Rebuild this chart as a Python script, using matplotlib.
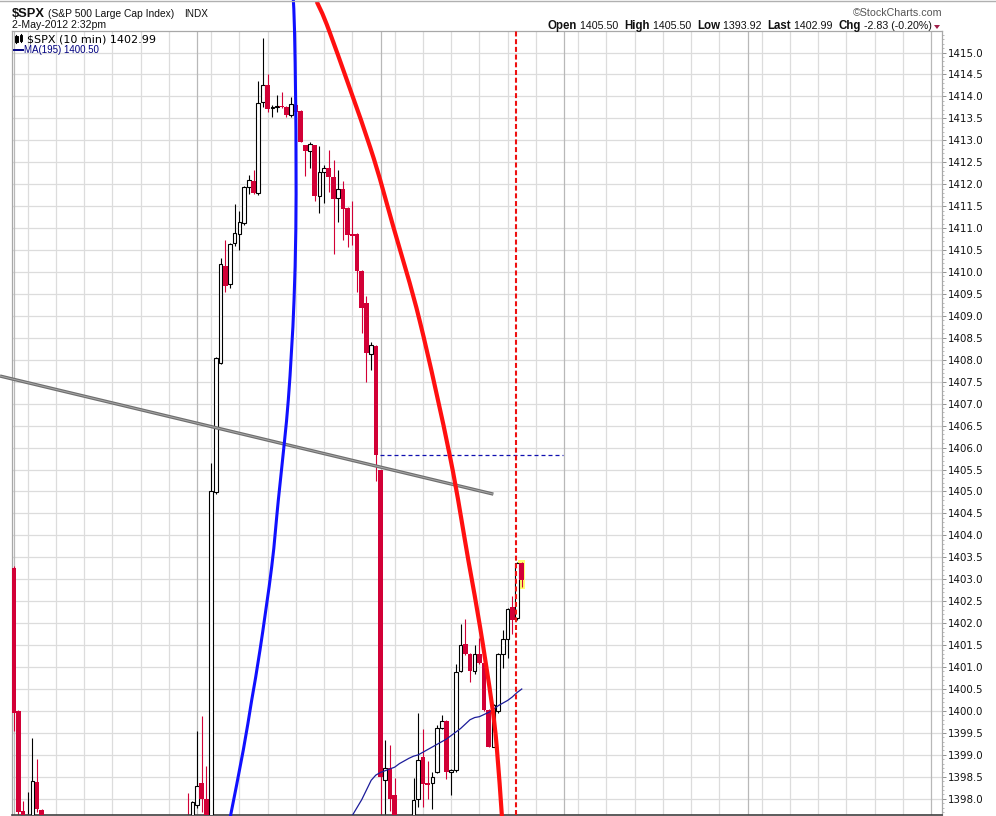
import numpy as np
import matplotlib
matplotlib.use('Agg')
import matplotlib.pyplot as plt
from matplotlib.patches import Rectangle, PathPatch
from matplotlib.path import Path
from matplotlib.lines import Line2D
from matplotlib.ticker import MultipleLocator, FormatStrFormatter

W, H = 996, 816

# ---------------- data ----------------
sessions = ['04-30', '05-01', '05-02']
bars_per_session = 39

bar_times = [
    '04-30 09:30', '04-30 09:40', '04-30 09:50', '04-30 10:00', '04-30 10:10', '04-30 10:20', '04-30 10:30',
    '04-30 15:40', '04-30 15:50',
    '05-01 09:30', '05-01 09:40', '05-01 09:50', '05-01 10:00', '05-01 10:10', '05-01 10:20', '05-01 10:30',
    '05-01 10:40', '05-01 10:50', '05-01 11:00', '05-01 11:10', '05-01 11:20', '05-01 11:30', '05-01 11:40',
    '05-01 11:50', '05-01 12:00', '05-01 12:10', '05-01 12:20', '05-01 12:30', '05-01 12:40', '05-01 12:50',
    '05-01 13:00', '05-01 13:10', '05-01 13:20', '05-01 13:30', '05-01 13:40', '05-01 13:50', '05-01 14:00',
    '05-01 14:10', '05-01 14:20', '05-01 14:30', '05-01 14:40', '05-01 14:50', '05-01 15:00', '05-01 15:10',
    '05-01 15:20', '05-01 15:30', '05-01 15:40', '05-01 15:50',
    '05-02 09:30', '05-02 09:40', '05-02 09:50', '05-02 10:00', '05-02 10:10', '05-02 10:20', '05-02 10:30',
    '05-02 10:40', '05-02 10:50', '05-02 11:00', '05-02 11:10', '05-02 11:20', '05-02 11:30', '05-02 11:40',
    '05-02 11:50', '05-02 12:00', '05-02 12:10', '05-02 12:20', '05-02 12:30', '05-02 12:40', '05-02 12:50',
    '05-02 13:00', '05-02 13:10', '05-02 13:20', '05-02 13:30', '05-02 13:40', '05-02 13:50', '05-02 14:00',
    '05-02 14:10', '05-02 14:20', '05-02 14:30',
]

opens = [
    1403.26, 1400.00, 1397.72, 1396.80, 1397.30, 1398.38, 1397.74,
    1397.50, 1397.30,
    1397.86, 1398.35, 1398.00, 1397.45, 1404.98, 1407.92, 1410.14,
    1409.72, 1410.65, 1410.87, 1411.11, 1411.93, 1412.07, 1411.79,
    1413.87, 1414.26, 1413.74, 1413.76, 1413.78, 1413.76, 1413.57,
    1413.80, 1413.66, 1412.89, 1412.75, 1412.89, 1411.74, 1412.28,
    1412.36, 1412.16, 1411.68, 1411.88, 1411.46, 1410.86, 1410.86,
    1410.02, 1409.30, 1408.13, 1408.31,
    1405.50, 1398.43, 1398.69, 1398.09, 1396.20, 1395.00, 1394.40,
    1396.00, 1398.00, 1398.94, 1398.37, 1398.35, 1398.62, 1399.61,
    1399.76, 1398.62, 1398.66, 1400.90, 1401.53, 1401.30, 1400.90,
    1401.29, 1401.10, 1400.02, 1399.19, 1400.00, 1401.29, 1401.63,
    1402.36, 1402.11, 1403.38,
]
highs = [
    1403.30, 1400.02, 1397.95, 1398.15, 1399.38, 1398.90, 1397.76,
    1398.13, 1397.95,
    1399.54, 1399.89, 1398.75, 1405.64, 1408.07, 1410.31, 1410.73,
    1410.65, 1411.55, 1411.39, 1411.95, 1412.21, 1412.33, 1414.36,
    1415.32, 1414.51, 1413.80, 1414.03, 1414.10, 1413.78, 1413.99,
    1413.85, 1413.68, 1412.90, 1412.95, 1412.90, 1412.87, 1412.44,
    1412.78, 1412.55, 1412.32, 1412.08, 1411.48, 1411.62, 1410.88,
    1410.04, 1409.45, 1408.41, 1408.33,
    1405.50, 1399.34, 1399.23, 1398.47, 1396.80, 1395.60, 1396.30,
    1398.47, 1399.95, 1399.58, 1398.85, 1398.62, 1399.68, 1399.91,
    1399.80, 1398.68, 1401.07, 1401.98, 1402.09, 1401.33, 1401.50,
    1401.66, 1401.12, 1400.04, 1400.16, 1401.31, 1401.85, 1402.34,
    1402.62, 1403.40, 1403.40,
]
lows = [
    1399.55, 1397.60, 1396.90, 1396.60, 1397.10, 1397.70, 1396.80,
    1397.00, 1397.10,
    1397.80, 1397.70, 1397.20, 1397.30, 1404.95, 1407.90, 1409.55,
    1409.64, 1410.60, 1410.49, 1411.07, 1411.78, 1411.77, 1411.75,
    1413.77, 1413.64, 1413.52, 1413.64, 1413.74, 1413.54, 1413.52,
    1413.60, 1412.95, 1412.19, 1412.38, 1411.62, 1411.34, 1411.58,
    1411.83, 1410.40, 1411.13, 1410.73, 1410.58, 1410.61, 1409.54,
    1408.62, 1407.49, 1407.77, 1405.25,
    1396.50, 1396.00, 1397.71, 1395.50, 1394.50, 1393.92, 1394.20,
    1395.80, 1397.82, 1397.82, 1398.00, 1397.76, 1398.58, 1399.60,
    1398.45, 1398.09, 1398.62, 1400.88, 1401.28, 1400.67, 1400.84,
    1401.08, 1400.00, 1399.17, 1399.17, 1399.95, 1400.99, 1401.20,
    1401.75, 1402.08, 1402.82,
]
closes = [
    1399.96, 1397.70, 1397.10, 1397.40, 1398.40, 1397.76, 1397.00,
    1397.20, 1397.92,
    1398.29, 1398.00, 1397.40, 1405.02, 1408.03, 1410.18, 1409.67,
    1410.63, 1410.88, 1411.15, 1411.93, 1412.09, 1411.79, 1413.84,
    1414.25, 1413.72, 1413.76, 1413.78, 1413.75, 1413.57, 1413.83,
    1413.64, 1412.97, 1412.76, 1412.91, 1411.74, 1412.27, 1412.36,
    1412.16, 1411.66, 1411.88, 1411.44, 1410.84, 1410.83, 1410.03,
    1409.17, 1408.16, 1408.34, 1405.82,
    1398.49, 1398.69, 1398.00, 1396.20, 1395.00, 1394.40, 1396.00,
    1397.97, 1398.88, 1398.34, 1398.31, 1398.50, 1399.61, 1399.76,
    1398.62, 1398.66, 1400.88, 1401.50, 1401.30, 1400.90, 1401.29,
    1401.10, 1400.02, 1399.19, 1400.14, 1401.29, 1401.63, 1402.32,
    1402.07, 1403.38, 1402.99,
]

ma_times = ['05-01 15:00', '05-01 15:10', '05-01 15:20', '05-01 15:30', '05-01 15:40', '05-01 15:50',
            '05-02 09:30', '05-02 09:40', '05-02 09:50', '05-02 10:00', '05-02 10:10', '05-02 10:20',
            '05-02 10:30', '05-02 10:40', '05-02 10:50', '05-02 11:00', '05-02 11:10', '05-02 11:20',
            '05-02 11:30', '05-02 11:40', '05-02 11:50', '05-02 12:00', '05-02 12:10', '05-02 12:20',
            '05-02 12:30', '05-02 12:40', '05-02 12:50', '05-02 13:00', '05-02 13:10', '05-02 13:20',
            '05-02 13:30', '05-02 13:40', '05-02 13:50', '05-02 14:00', '05-02 14:10', '05-02 14:20',
            '05-02 14:30']
ma_values = [1397.62, 1397.80, 1397.98, 1398.20, 1398.42, 1398.54,
             1398.60, 1398.64, 1398.68, 1398.72, 1398.80, 1398.86,
             1398.92, 1398.97, 1399.00, 1399.06, 1399.12, 1399.18,
             1399.24, 1399.30, 1399.36, 1399.44, 1399.52, 1399.60,
             1399.70, 1399.80, 1399.85, 1399.87, 1399.92, 1399.97,
             1400.04, 1400.12, 1400.18, 1400.24, 1400.32, 1400.42,
             1400.50]

# hand-drawn annotations as (bar position, price)
blue_arc_x = [59.46, 59.71, 59.95, 60.03, 59.99, 59.61, 59.08, 58.39, 57.54, 56.27, 54.87, 52.38, 50.62,
              48.83, 46.22, 46.11]
blue_arc_y = [1416.20, 1415.52, 1413.92, 1412.55, 1410.96, 1409.36, 1408.22, 1407.08, 1406.10, 1404.80,
              1403.29, 1401.39, 1400.25, 1399.11, 1397.67, 1397.61]
red_arc_x = [64.43, 67.26, 75.76, 80.71, 86.38, 92.76, 96.64, 99.13, 101.62, 102.68, 103.74, 103.80]
red_arc_y = [1416.16, 1415.44, 1412.85, 1411.03, 1408.86, 1405.79, 1403.44, 1401.92, 1400.18, 1399.19,
             1397.67, 1397.61]
trend_x = [-2.87, 101.96]
trend_y = [1407.63, 1404.94]
prev_close = 1405.82
prev_close_span = [77.9, 116.8]
marker_bar = 106.71

y_ticks = np.arange(1398.0, 1415.01, 0.5)

# ---------------- helpers ----------------
def bar_index(t):
    d, hm = t.split()
    h, m = hm.split(':')
    return sessions.index(d) * bars_per_session + (int(h) * 60 + int(m) - 570) // 10


def smooth_path(xs, ys):
    """Catmull-Rom through the points, handed to matplotlib as cubic Bezier segments."""
    p = np.column_stack([xs, ys]).astype(float)
    verts = [p[0]]
    codes = [Path.MOVETO]
    n = len(p)
    for k in range(n - 1):
        p0 = p[k - 1] if k > 0 else p[k]
        p1, p2 = p[k], p[k + 1]
        p3 = p[k + 2] if k + 2 < n else p[k + 1]
        c1 = p1 + (p2 - p0) / 6.0
        c2 = p2 - (p3 - p1) / 6.0
        verts += [c1, c2, p2]
        codes += [Path.CURVE4] * 3
    return Path(verts, codes)


RED = '#d20036'

fig = plt.figure(figsize=(W / 100, H / 100), dpi=100)
fig.patch.set_facecolor('white')
ax = fig.add_axes([12 / W, 1 - 815 / H, 930 / W, 784 / H])
ax.set_xlim(-0.32, 197.3)
ax.set_ylim(1397.63, 1415.49)

# grid
for p in np.arange(1398.0, 1415.5, 0.5):
    ax.axhline(p, color='#dcdcdc', lw=0.9, zorder=0)
for d in range(6):
    s = d * bars_per_session
    ax.axvline(s, color='#b8b8b8', lw=0.9, zorder=0.1)
    for j in range(6):
        ax.axvline(s + 3 + 6 * j, color='#dcdcdc', lw=0.9, zorder=0)

# highlight of last bar
last_i = bar_index(bar_times[-1])
ax.add_patch(Rectangle((last_i - 0.75, lows[-1] - 0.04), 1.5, highs[-1] - lows[-1] + 0.08,
                       fc='#ffff70', ec='none', zorder=1))

# candles
for t, o, h, l, c in zip(bar_times, opens, highs, lows, closes):
    i = bar_index(t)
    if c >= o:
        ax.plot([i, i], [l, h], color='black', lw=0.8, zorder=2, solid_capstyle='butt')
        ax.add_patch(Rectangle((i - 0.38, o), 0.76, max(c - o, 0.01), fc='white', ec='black',
                               lw=0.8, zorder=3))
    else:
        ax.plot([i, i], [l, h], color=RED, lw=0.8, zorder=2, solid_capstyle='butt')
        ax.add_patch(Rectangle((i - 0.5, c), 1.0, max(o - c, 0.04), fc=RED, ec='none', zorder=3))

# moving average
ax.plot([bar_index(t) for t in ma_times], ma_values, color='#1c1c9a', lw=0.9, zorder=4)

# annotations
ax.plot(trend_x, trend_y, color='#6f6f6f', lw=2.4, zorder=5, clip_on=False, solid_capstyle='butt')
ax.plot(trend_x, trend_y, color='#a8a8a8', lw=0.7, zorder=5.1, clip_on=False, solid_capstyle='butt')
ax.plot(prev_close_span, [prev_close, prev_close], color='#1010b0', lw=0.9, ls=(0, (3.2, 2.4)), zorder=5)
ax.plot([marker_bar, marker_bar], [1397.63, 1415.49], color='#ee1111', lw=1.5, ls=(0, (2.4, 1.3)), zorder=5)
ax.add_patch(PathPatch(smooth_path(blue_arc_x, blue_arc_y), fc='none', ec='#1010ff', lw=2.2,
                       zorder=6, clip_on=False))
ax.add_patch(PathPatch(smooth_path(red_arc_x, red_arc_y), fc='none', ec='#ff1010', lw=3.0,
                       zorder=6, clip_on=False))

# axes styling
for side in ['left', 'top', 'right']:
    ax.spines[side].set_color('#a8a8a8')
    ax.spines[side].set_linewidth(0.9)
ax.spines['bottom'].set_color('#404040')
ax.spines['bottom'].set_linewidth(1.2)
ax.set_xticks([])
ax.yaxis.tick_right()
ax.set_yticks(y_ticks)
ax.yaxis.set_major_formatter(FormatStrFormatter('%.1f'))
ax.yaxis.set_minor_locator(MultipleLocator(0.1))
ax.tick_params(axis='y', which='major', length=3, width=0.6, color='#808080', pad=1.5,
               labelsize=7.4, labelcolor='#111111')
ax.tick_params(axis='y', which='minor', length=1.5, width=0.5, color='#a0a0a0')
for lab in ax.get_yticklabels():
    lab.set_fontfamily('DejaVu Sans')

# ---------------- header texts ----------------
fig.canvas.draw()
rend = fig.canvas.get_renderer()


def ptext(x, y, s, **kw):
    return fig.text(x / W, 1 - y / H, s, va='baseline', **kw)


def width_px(t):
    return t.get_window_extent(renderer=rend).width


def fitted(x, y, s, target_w, **kw):
    t = ptext(x, y, s, fontsize=10, **kw)
    t.set_fontsize(10 * target_w / width_px(t))
    return t


SANS = 'Liberation Sans'
fitted(12, 17, '$SPX', 33, fontweight='bold', family=SANS, color='#111111')
fitted(48, 17, '(S&P 500 Large Cap Index)', 127, family=SANS, color='#111111')
fitted(184, 17, 'INDX', 24, family=SANS, color='#111111')
fitted(12, 28.5, '2-May-2012 2:32pm', 94, family=SANS, color='#111111')
fitted(853, 15.5, '\u00a9StockCharts.com', 89, family=SANS, color='#555555')

pieces = [('Open', True), (' 1405.50  ', False), ('High', True), (' 1405.50  ', False),
          ('Low', True), (' 1393.92  ', False), ('Last', True), (' 1402.99  ', False),
          ('Chg', True), (' -2.83 (-0.20%)', False)]
objs = []
for s, b in pieces:
    objs.append(ptext(0, 29, s, fontsize=10 if b else 9.2, family=SANS,
                      fontweight='bold' if b else 'normal', color='#111111'))
total = sum(width_px(o) for o in objs)
scale = 384.0 / total
for o in objs:
    o.set_fontsize(o.get_fontsize() * scale)
widths = [width_px(o) for o in objs]
x = 932 - sum(widths)
for o, w in zip(objs, widths):
    o.set_x(x / W)
    x += w
fig.patches.append(plt.Polygon([[934 / W, 1 - 25 / H], [940 / W, 1 - 25 / H], [937 / W, 1 - 29 / H]],
                               closed=True, fc='#a0204a', ec='none', transform=fig.transFigure))
fig.lines.append(Line2D([0, 1], [1 - 0.5 / H, 1 - 0.5 / H], color='#b0b0b0', lw=1, transform=fig.transFigure))

# legend inside plot
fitted(27, 42, '$SPX (10 min) 1402.99', 129, family='DejaVu Sans', color='#000000')
fitted(24, 53, 'MA(195) 1400.50', 75, family=SANS, color='#000080')
fig.lines.append(Line2D([14 / W, 22.5 / W], [1 - 49.5 / H, 1 - 49.5 / H], color='#000080', lw=1.4,
                        transform=fig.transFigure))
# small candle icon
for (x0, y0, y1, filled) in [(15, 36, 41.5, True), (19.5, 35, 41, False)]:
    fig.lines.append(Line2D([(x0 + 1) / W] * 2, [1 - (y0 - 1) / H, 1 - (y1 + 1) / H], color='black', lw=0.8,
                            transform=fig.transFigure))
    fig.patches.append(Rectangle((x0 / W, 1 - y1 / H), 2.5 / W, (y1 - y0) / H, fc='black' if filled else 'white',
                                 ec='black', lw=0.7, transform=fig.transFigure))

fig.savefig('out.png', dpi=100, facecolor='white')
